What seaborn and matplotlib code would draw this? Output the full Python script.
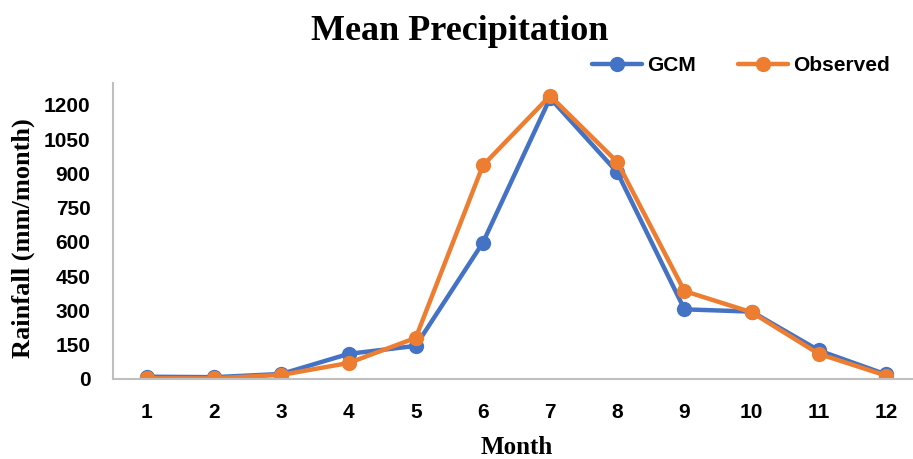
import matplotlib
matplotlib.use("Agg")
import matplotlib.pyplot as plt
import seaborn as sns
import pandas as pd
from matplotlib.lines import Line2D

months = [1, 2, 3, 4, 5, 6, 7, 8, 9, 10, 11, 12]
gcm = [10, 8, 22, 110, 145, 597, 1230, 905, 305, 295, 125, 20]
observed = [3, 3, 18, 70, 180, 935, 1240, 950, 385, 292, 110, 15]
y_ticks = [0, 150, 300, 450, 600, 750, 900, 1050, 1200]
series_names = ["GCM", "Observed"]
colors = ["#4472C4", "#ED7D31"]

df = pd.DataFrame({
    "Month": months * 2,
    "Rainfall": gcm + observed,
    "Series": [series_names[0]] * len(months) + [series_names[1]] * len(months),
})

sns.set_theme(style="white")
plt.rcParams['font.family'] = ['Liberation Sans', 'DejaVu Sans']
plt.rcParams['text.color'] = 'black'
plt.rcParams['xtick.color'] = 'black'
plt.rcParams['ytick.color'] = 'black'

fig = plt.figure(figsize=(9.13, 4.59), dpi=100)
W, H = 913, 459
ax = fig.add_axes([113.4 / W, 1 - 379 / H, (919.6 - 113.4) / W, (379 - 83) / H])

sns.lineplot(data=df, x="Month", y="Rainfall", hue="Series", hue_order=series_names,
             palette=colors, marker="o", markersize=11, linewidth=3.2,
             markeredgewidth=0, ax=ax, legend=False)

ax.set_xlim(0.5, 12.5)
ax.set_ylim(0, 1296)
ax.set_xticks(months)
ax.set_xticklabels([str(m) for m in months])
ax.set_yticks(y_ticks)
ax.set_yticklabels([str(v) for v in y_ticks])
ax.set_xlabel("")
ax.set_ylabel("")
ax.tick_params(axis="both", length=0, labelsize=15, labelcolor="black")
ax.tick_params(axis="y", pad=16.5)
ax.tick_params(axis="x", pad=17)
for lab in ax.get_xticklabels() + ax.get_yticklabels():
    lab.set_fontweight("bold")
for s in ["top", "right"]:
    ax.spines[s].set_visible(False)
for s in ["left", "bottom"]:
    ax.spines[s].set_color("#BFBFBF")
    ax.spines[s].set_linewidth(1.5)
ax.grid(False)

serif = ['Liberation Serif', 'DejaVu Serif']
fig.text(460 / W, 1 - 31 / H, "Mean Precipitation", ha="center", va="center",
         fontsize=26, fontweight="bold", family=serif, color="black")
fig.text(517 / W, 1 - 448 / H, "Month", ha="center", va="center",
         fontsize=18, fontweight="bold", family=serif, color="black")
fig.text(23 / W, 1 - 238 / H, "Rainfall (mm/month)", ha="center", va="center",
         rotation=90, fontsize=19, fontweight="bold", family=serif, color="black")

handles = [Line2D([0], [0], color=c, lw=3.2, marker="o", markersize=11, markeredgewidth=0)
           for c in colors]
leg = fig.legend(handles, series_names, loc="center left",
                 bbox_to_anchor=(592 / W, 1 - 66 / H), ncol=2, frameon=False,
                 borderpad=0, borderaxespad=0, handlelength=2.4, handletextpad=0.25,
                 columnspacing=2.0, prop={"size": 15, "weight": "bold"})
for t in leg.get_texts():
    t.set_color("black")

fig.savefig("out.png", dpi=100)
